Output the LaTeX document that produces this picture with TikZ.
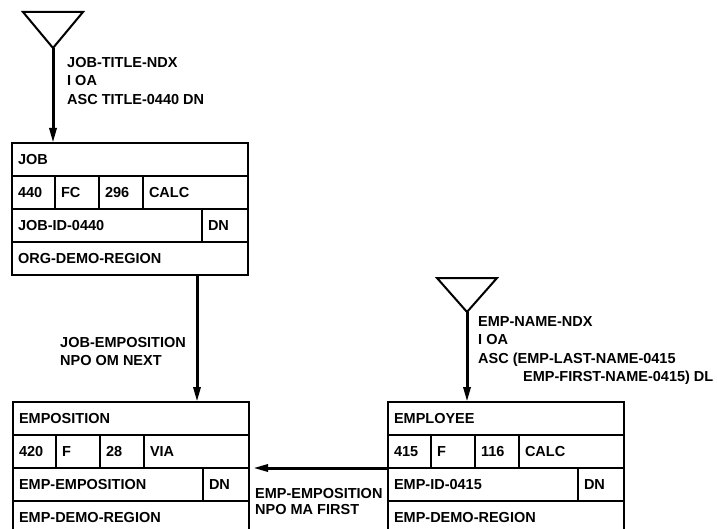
\documentclass[tikz,border=0pt]{standalone}
\usepackage{fontspec}
\setmainfont{Liberation Sans}
\usetikzlibrary{positioning, arrows.meta}

\begin{document}
\begin{tikzpicture}[
    x=1pt, y=-1pt,
    font=\fontsize{14.5}{18.5}\selectfont\bfseries,
    cell/.style={rectangle, draw, line width=1.8pt, outer sep=0pt, minimum width=#1pt,
    text width=#1pt-12pt, inner xsep=6pt, inner ysep=0pt, minimum height=33pt, align=left},
    recrow/.style={cell=236, anchor=north west},
    ndx/.style={draw, line width=2pt, line join=miter},
    link/.style={-{Triangle[length=15pt, width=7pt]}, line width=3pt},
    linklabel/.style={anchor=north west, inner sep=0pt, align=left}
]
\useasboundingbox (0,0) rectangle (717,529);
\clip (0,0) rectangle (717,529);

% JOB record
\node[recrow] (job) at (12,143) {JOB};
\node[cell=43, below=0pt of job.south west, anchor=north west] (job440) {440};
\node[cell=44, right=0pt of job440] (jobfc) {FC};
\node[cell=44, right=0pt of jobfc] (job296) {296};
\node[cell=105, right=0pt of job296] (jobcalc) {CALC};
\node[cell=190, below=0pt of job440.south west, anchor=north west] (jobid) {JOB-ID-0440};
\node[cell=46, right=0pt of jobid] (jobdn) {DN};
\node[cell=236, below=0pt of jobid.south west, anchor=north west] (jobarea) {ORG-DEMO-REGION};

% EMPOSITION record
\node[recrow] (emppos) at (13,402) {EMPOSITION};
\node[cell=43, below=0pt of emppos.south west, anchor=north west] (emppos420) {420};
\node[cell=44, right=0pt of emppos420] (empposf) {F};
\node[cell=44, right=0pt of empposf] (emppos28) {28};
\node[cell=105, right=0pt of emppos28] (empposvia) {VIA};
\node[cell=190, below=0pt of emppos420.south west, anchor=north west] (empposid) {EMP-EMPOSITION};
\node[cell=46, right=0pt of empposid] (empposdn) {DN};
\node[cell=236, below=0pt of empposid.south west, anchor=north west] (empposarea) {EMP-DEMO-REGION};

% EMPLOYEE record
\node[recrow] (emp) at (388,402) {EMPLOYEE};
\node[cell=43, below=0pt of emp.south west, anchor=north west] (emp415) {415};
\node[cell=44, right=0pt of emp415] (empf) {F};
\node[cell=44, right=0pt of empf] (emp116) {116};
\node[cell=105, right=0pt of emp116] (empcalc) {CALC};
\node[cell=190, below=0pt of emp415.south west, anchor=north west] (empid) {EMP-ID-0415};
\node[cell=46, right=0pt of empid] (empdn) {DN};
\node[cell=236, below=0pt of empid.south west, anchor=north west] (emparea) {EMP-DEMO-REGION};

% index entry points
\coordinate (jobndx) at (53,48);
\coordinate (empndx) at (467,312);
\draw[ndx] (jobndx) -- ++(-30,-36) -- ++(60,0) -- cycle;
\draw[ndx] (empndx) -- ++(-30,-34) -- ++(60,0) -- cycle;

% labels
\node[linklabel] (jobndxlabel) at (67,57) {JOB-TITLE-NDX\\I OA\\ASC TITLE-0440 DN};
\node[linklabel] (jobemplabel) at (60,337) {JOB-EMPOSITION\\NPO OM NEXT};
\node[linklabel] (empndxlabel) at (478,316) {EMP-NAME-NDX\\I OA\\ASC (EMP-LAST-NAME-0415\\\hspace*{45pt}EMP-FIRST-NAME-0415) DL};
\node[linklabel, font=\fontsize{14.5}{16.5}\selectfont\bfseries] (empemplabel) at (255,488) {EMP-EMPOSITION\\NPO MA FIRST};

% sets
\draw[link] (jobndx) -- (jobndx |- job.north);
\draw[link] (empndx) -- (empndx |- emp.north);
\draw[link] ([xshift=67pt]jobarea.south) -- ([xshift=66pt]emppos.north);
\draw[link] (empid.north west) -- ([xshift=4pt]empposdn.north east);

\end{tikzpicture}
\end{document}
